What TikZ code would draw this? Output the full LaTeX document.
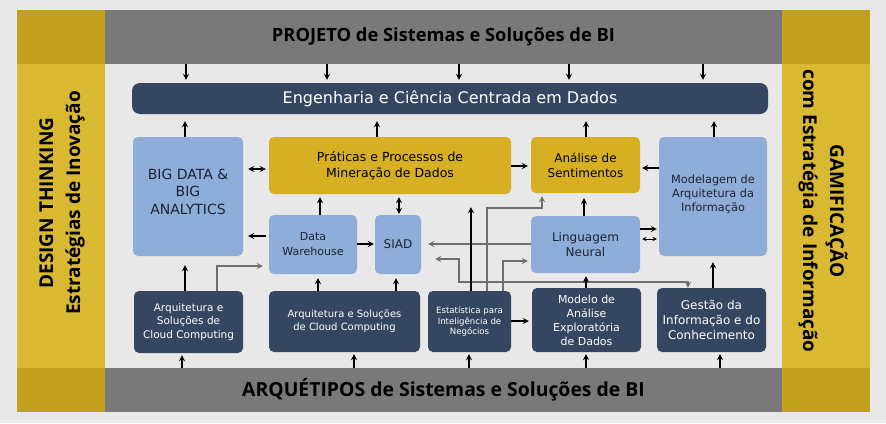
\documentclass[tikz,border=0pt]{standalone}
\usepackage{fontspec}
\setmainfont{DejaVu Sans}
\newfontfamily\barfont{Open Sans}

\definecolor{bggray}{HTML}{E8E8E8}
\definecolor{bargray}{HTML}{797979}
\definecolor{sidegold}{HTML}{D9B832}
\definecolor{cornergold}{HTML}{C1A01E}
\definecolor{navy}{HTML}{344660}
\definecolor{lightblue}{HTML}{8EAED9}
\definecolor{boxgold}{HTML}{D6B022}
\definecolor{boxtext}{HTML}{1C2233}
\definecolor{arrowgray}{HTML}{6E6E6E}

\tikzset{
  box/.style={rounded corners=5pt, align=center, inner sep=0pt},
  navybox/.style={box, fill=navy, text=white},
  bluebox/.style={box, fill=lightblue, text=boxtext},
  goldbox/.style={box, fill=boxgold, text=black},
  bar/.style={fill=bargray, inner sep=0pt},
  sidetext/.style={align=center, inner sep=0pt, font=\barfont\bfseries\fontsize{19}{27}\selectfont},
  arr/.style={->, line width=1.6pt, black},
  garr/.style={->, line width=1.6pt, arrowgray},
}

\begin{document}
\begin{tikzpicture}[x=1pt,y=-1pt,>=stealth]
    % Background
    \fill[bggray] (0,0) rectangle (886,423);

    % Side bars
    \fill[sidegold] (17,10) rectangle (105,412);
    \fill[sidegold] (782,10) rectangle (870,412);
    \fill[cornergold] (17,10) rectangle (105,64);
    \fill[cornergold] (17,368) rectangle (105,412);
    \fill[cornergold] (782,10) rectangle (870,64);
    \fill[cornergold] (782,368) rectangle (870,412);
    \node[sidetext, rotate=90] (design) at (62,203) {DESIGN THINKING\\Estratégias de Inovação};
    \node[sidetext, rotate=-90] (gamif) at (823,211) {GAMIFICAÇÃO\\com Estratégia de Informação};

    % Top and bottom bars
    \node[bar, minimum width=677pt, minimum height=54pt, font=\barfont\bfseries\fontsize{18.3}{22}\selectfont]
        (projeto) at (443.5,37) {PROJETO de Sistemas e Soluções de BI};
    \node[bar, minimum width=677pt, minimum height=44pt, font=\barfont\bfseries\fontsize{19.4}{23}\selectfont]
        (arquetipos) at (443.5,390) {ARQUÉTIPOS de Sistemas e Soluções de BI};

    % Top band
    \node[navybox, rounded corners=8pt, minimum width=636pt, minimum height=31pt,
          font=\fontsize{16}{19}\selectfont] (eng) at (450,98.5) {Engenharia e Ciência Centrada em Dados};

    % Middle row
    \node[bluebox, minimum width=110pt, minimum height=119pt, font=\fontsize{14}{17.5}\selectfont]
        (bigdata) at (188,196.5) {BIG DATA \&\\BIG\\ANALYTICS\\[-8pt]};
    \node[goldbox, minimum width=242pt, minimum height=57pt, font=\fontsize{12.5}{15.6}\selectfont]
        (praticas) at (390,165.5) {Práticas e Processos de\\Mineração de Dados};
    \node[goldbox, minimum width=109pt, minimum height=56pt, font=\fontsize{12}{15}\selectfont]
        (analise) at (585.5,165) {Análise de\\Sentimentos};
    \node[bluebox, minimum width=108pt, minimum height=119pt, font=\fontsize{11.3}{14}\selectfont]
        (modelagem) at (713,196.5) {Modelagem de\\Arquitetura da\\Informação\\[-8pt]};
    \node[bluebox, minimum width=88pt, minimum height=59pt, font=\fontsize{11}{15}\selectfont]
        (dw) at (313,244.5) {Data\\Warehouse};
    \node[bluebox, minimum width=46pt, minimum height=59pt, font=\fontsize{12}{15}\selectfont]
        (siad) at (398,244.5) {SIAD};
    \node[bluebox, minimum width=109pt, minimum height=57pt, font=\fontsize{12}{15}\selectfont]
        (ling) at (585.5,244.5) {Linguagem\\Neural};

    % Bottom row
    \node[navybox, minimum width=109pt, minimum height=62pt, font=\fontsize{10.5}{13.3}\selectfont]
        (arq1) at (188.5,322) {Arquitetura e\\Soluções de\\Cloud Computing};
    \node[navybox, minimum width=151pt, minimum height=61pt, font=\fontsize{10}{12.7}\selectfont]
        (arq2) at (344.5,321.5) {Arquitetura e Soluções\\de Cloud Computing};
    \node[navybox, minimum width=83pt, minimum height=61pt, font=\fontsize{8.6}{10.7}\selectfont]
        (estat) at (469.5,321.5) {Estatística para\\Inteligência de\\Negócios};
    \node[navybox, minimum width=109pt, minimum height=64pt, font=\fontsize{11}{14}\selectfont]
        (modelo) at (586.5,320) {Modelo de\\Análise\\Exploratória\\de Dados};
    \node[navybox, minimum width=109pt, minimum height=64pt, font=\fontsize{12}{14.7}\selectfont]
        (gestao) at (711.5,320) {Gestão da\\Informação e do\\Conhecimento};

    % Arrows from the bars
    \foreach \x in {186,327,459,569,703}
        \draw[arr, shorten >=3pt] (\x,0 |- projeto.south) -- (\x,0 |- eng.north);
    \foreach \x/\n in {182/arq1,354/arq2,469/estat,586/modelo,720/gestao}
        \draw[arr, shorten >=2pt] (\x,0 |- arquetipos.north) -- (\x,0 |- \n.south);

    % Arrows into the top band
    \draw[arr, shorten >=7pt] (185,0 |- bigdata.north) -- (185,0 |- eng.south);
    \draw[arr, shorten >=7pt] (377,0 |- praticas.north) -- (377,0 |- eng.south);
    \draw[arr, shorten >=7pt] (586,0 |- analise.north) -- (586,0 |- eng.south);
    \draw[arr, shorten >=7pt] (714,0 |- modelagem.north) -- (714,0 |- eng.south);

    % Middle links
    \draw[arr, <->, shorten <=5pt, shorten >=3pt] (bigdata.east |- 0,169) -- (praticas.west |- 0,169);
    \draw[arr, shorten >=3pt] (praticas.east |- 0,166) -- (analise.west |- 0,166);
    \draw[arr, shorten >=2pt] (modelagem.west |- 0,168) -- (analise.east |- 0,168);
    \draw[arr, shorten <=3pt, shorten >=5pt] (dw.west |- 0,236) -- (bigdata.east |- 0,236);
    \draw[arr, shorten >=1pt] (dw.east |- 0,244) -- (siad.west |- 0,244);
    \draw[arr, shorten >=3pt] (320,0 |- dw.north) -- (320,0 |- praticas.south);
    \draw[arr, <->, shorten <=1pt, shorten >=3pt] (399,0 |- siad.north) -- (399,0 |- praticas.south);
    \draw[arr, shorten >=5pt] (584,0 |- ling.north) -- (584,0 |- analise.south);
    \draw[arr, shorten >=2pt] (ling.east |- 0,229) -- (modelagem.west |- 0,229);
    \draw[arr, <->, line width=0.9pt, shorten <=2pt, shorten >=2pt] (ling.east |- 0,239) -- (modelagem.west |- 0,239);

    % Links from the bottom row
    \draw[arr, shorten >=9pt] (185,0 |- arq1.north) -- (185,0 |- bigdata.south);
    \draw[garr, shorten >=6pt] (217,0 |- arq1.north) |- (dw.west |- 0,266);
    \draw[arr, shorten >=4pt] (318,0 |- arq2.north) -- (318,0 |- dw.south);
    \draw[arr, shorten >=4pt] (396,0 |- arq2.north) -- (396,0 |- siad.south);
    \draw[garr, shorten >=3pt] (487,0 |- estat.north) -- (487,208) -| (542,0 |- analise.south);
    \draw[garr, shorten >=3pt] (503,0 |- estat.north) |- (ling.west |- 0,261);
    \draw[garr, shorten >=7pt] (ling.west |- 0,244) -- (siad.east |- 0,244);
    \draw[garr, <->, shorten <=14pt] (siad.east |- 0,259) -| (459,282) -| (688,0 |- gestao.north);
    \draw[arr, shorten >=13pt] (471,0 |- estat.north) -- (471,0 |- praticas.south);
    \draw[arr, shorten >=3pt] (estat.east |- 0,321) -- (modelo.west |- 0,321);
    \draw[arr, shorten >=3pt] (586,0 |- modelo.north) -- (586,0 |- ling.south);
    \draw[arr, shorten >=6pt] (713,0 |- gestao.north) -- (713,0 |- modelagem.south);
\end{tikzpicture}
\end{document}
